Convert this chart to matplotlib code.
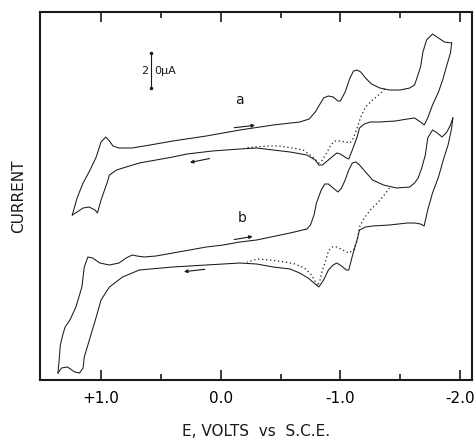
import matplotlib
matplotlib.use("Agg")
import matplotlib.pyplot as plt
from matplotlib.ticker import FixedLocator

# Cyclic voltammograms, potential in V vs SCE, current in arbitrary units (scale bar = 20 uA)
a_fwd_E = [1.24, 1.20, 1.15, 1.10, 1.04, 1.00, 0.96, 0.93, 0.90, 0.85, 0.74, 0.59, 0.40, 0.12,
           -0.16, -0.44, -0.66, -0.74, -0.79, -0.83, -0.86, -0.90, -0.94, -0.98, -1.00, -1.04,
           -1.08, -1.11, -1.14, -1.17, -1.21, -1.26, -1.33, -1.41, -1.50, -1.58, -1.62, -1.64,
           -1.67, -1.69, -1.72, -1.77, -1.82, -1.87, -1.93]
a_fwd_i = [165, 182, 197, 208, 223, 238, 243, 239, 234, 232, 232, 235, 239, 244,
           250, 255, 258, 261, 268, 276, 282, 284, 283, 279, 279, 288,
           302, 309, 310, 308, 302, 296, 292, 290, 290, 292, 295, 302,
           313, 328, 340, 346, 342, 338, 337]
a_rev_E = [-1.93, -1.92, -1.89, -1.86, -1.82, -1.77, -1.73, -1.70, -1.67, -1.62, -1.56, -1.46,
           -1.33, -1.25, -1.20, -1.16, -1.14, -1.10, -1.07, -1.05, -1.00, -0.97, -0.94, -0.90,
           -0.85, -0.82, -0.79, -0.72, -0.58, -0.44, -0.30, -0.16, 0.07, 0.28, 0.40, 0.54,
           0.68, 0.79, 0.87, 0.93, 0.95, 1.00, 1.03, 1.05, 1.10, 1.15, 1.20, 1.24]
a_rev_i = [337, 327, 315, 302, 288, 275, 262, 255, 258, 262, 261, 259,
           258, 258, 256, 252, 243, 230, 221, 222, 226, 227, 224, 220,
           215, 215, 220, 225, 228, 230, 232, 231, 229, 226, 223, 220,
           217, 213, 210, 205, 197, 180, 167, 170, 173, 172, 168, 165]
a_dot_E = [-1.37, -1.33, -1.27, -1.21, -1.17, -1.14, -1.11, -1.08, -1.04, -1.00, -0.95, -0.92,
           -0.89, -0.85, -0.82, -0.76, -0.69, -0.60, -0.49, -0.39, -0.28, -0.20]
a_dot_i = [291, 286, 280, 273, 263, 252, 242, 237, 238, 239, 239, 235,
           228, 220, 217, 224, 230, 232, 234, 234, 233, 232]

b_fwd_E = [1.36, 1.35, 1.34, 1.32, 1.30, 1.26, 1.21, 1.16, 1.14, 1.11, 1.07, 1.01, 0.93, 0.85,
           0.79, 0.74, 0.70, 0.64, 0.54, 0.40, 0.26, 0.12, -0.02, -0.16, -0.30, -0.58, -0.72,
           -0.75, -0.78, -0.80, -0.84, -0.87, -0.90, -0.94, -0.98, -1.01, -1.04, -1.07, -1.10,
           -1.13, -1.16, -1.21, -1.27, -1.36, -1.47, -1.58, -1.62, -1.65, -1.68, -1.71, -1.73,
           -1.77, -1.81, -1.85, -1.89, -1.92, -1.94]
b_fwd_i = [7, 20, 35, 45, 53, 60, 73, 93, 113, 123, 122, 117, 115, 117,
           122, 125, 124, 123, 124, 127, 130, 133, 135, 138, 140, 147, 151,
           155, 165, 177, 190, 196, 196, 192, 188, 192, 200, 210, 217,
           218, 215, 208, 200, 195, 192, 193, 197, 202, 212, 225, 242,
           250, 247, 243, 248, 255, 262]
b_rev_E = [-1.94, -1.93, -1.90, -1.86, -1.82, -1.77, -1.73, -1.70, -1.67, -1.62, -1.56, -1.41,
           -1.27, -1.21, -1.16, -1.14, -1.10, -1.07, -1.05, -1.01, -0.97, -0.94, -0.90, -0.86,
           -0.82, -0.78, -0.73, -0.66, -0.58, -0.44, -0.30, -0.16, 0.12, 0.40, 0.68, 0.82,
           0.93, 1.00, 1.04, 1.08, 1.11, 1.14, 1.15, 1.18, 1.22, 1.28, 1.33, 1.36]
b_rev_i = [262, 252, 235, 220, 203, 187, 170, 154, 156, 157, 157, 155,
           154, 153, 150, 140, 124, 110, 110, 114, 117, 115, 110, 100,
           93, 97, 102, 107, 111, 113, 116, 117, 115, 113, 110, 103,
           93, 80, 63, 47, 35, 23, 12, 7, 8, 13, 12, 7]
b_dot_E = [-1.41, -1.36, -1.31, -1.25, -1.20, -1.16, -1.14, -1.11, -1.07, -1.02, -0.97, -0.93,
           -0.90, -0.88, -0.85, -0.83, -0.81, -0.76, -0.70, -0.62, -0.54, -0.41, -0.31, -0.22]
b_dot_i = [192, 184, 177, 170, 162, 153, 140, 130, 127, 130, 133, 133,
           129, 120, 110, 100, 94, 105, 112, 116, 118, 120, 121, 118]

# scan-direction arrows: (tail E, tail i, head E, head i)
arrows = [(-0.09, 252, -0.31, 255), (0.07, 222, 0.28, 217),
          (-0.09, 140, -0.29, 144), (0.11, 111, 0.33, 108)]

major_ticks = [1.0, 0.0, -1.0, -2.0]
major_labels = ["+1.0", "0.0", "-1.0", "-2.0"]
minor_ticks = [0.5, -0.5, -1.5]

INK = "#1a1a1a"

fig = plt.figure(figsize=(4.75, 4.43), dpi=100)
ax = fig.add_axes([40 / 475, 63 / 443, 432 / 475, 368 / 443])

for E, i in [(a_fwd_E, a_fwd_i), (a_rev_E, a_rev_i), (b_fwd_E, b_fwd_i), (b_rev_E, b_rev_i)]:
    ax.plot(E, i, color=INK, lw=0.75, solid_joinstyle="round")
for E, i in [(a_dot_E, a_dot_i), (b_dot_E, b_dot_i)]:
    ax.plot(E, i, color=INK, lw=0.9, linestyle=(0, (1, 2.2)))

for x0, y0, x1, y1 in arrows:
    ax.annotate("", xy=(x1, y1), xytext=(x0, y0),
                arrowprops=dict(arrowstyle="-|>", color=INK, lw=0.8, mutation_scale=5))

ax.text(-0.16, 280, "a", fontsize=10, color=INK, ha="center", va="center")
ax.text(-0.18, 162, "b", fontsize=10, color=INK, ha="center", va="center")

# 20 uA scale bar
ax.plot([0.58, 0.58], [292, 327], color=INK, lw=0.8, marker=".", markersize=3)
ax.text(0.605, 309, "2", fontsize=8, color=INK, ha="right", va="center")
ax.text(0.555, 309, "0\u00b5A", fontsize=8, color=INK, ha="left", va="center")

ax.set_xlim(1.51, -2.10)
ax.set_ylim(0, 368)
ax.xaxis.set_major_locator(FixedLocator(major_ticks))
ax.xaxis.set_minor_locator(FixedLocator(minor_ticks))
ax.set_xticklabels(major_labels)
ax.set_yticks([])
ax.tick_params(axis="x", which="both", direction="in", top=True, bottom=True,
               color=INK, width=1.2, labelsize=11, pad=8)
ax.tick_params(axis="x", which="major", length=7)
ax.tick_params(axis="x", which="minor", length=4)
for s in ax.spines.values():
    s.set_linewidth(1.5)
    s.set_color(INK)

ax.set_xlabel("E, VOLTS  vs  S.C.E.", fontsize=11, color=INK, labelpad=13)
ax.set_ylabel("CURRENT", fontsize=11, color=INK, labelpad=10)

fig.savefig("out.png", dpi=100)
